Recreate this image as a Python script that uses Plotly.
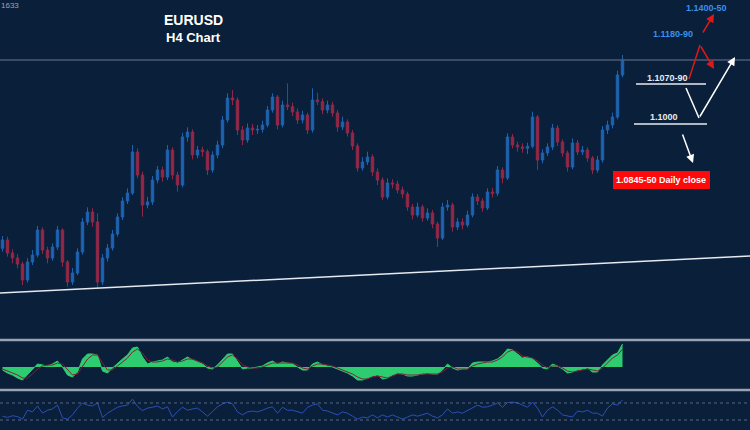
import plotly.graph_objects as go

# ---------------- data ----------------
idx = list(range(125))

opens = [1.0615, 1.0640, 1.0601, 1.0586, 1.0568, 1.0520, 1.0574, 1.0595, 1.0670, 1.0610,
         1.0586, 1.0619, 1.0670, 1.0574, 1.0514, 1.0541, 1.0604, 1.0694, 1.0724, 1.0694,
         1.0514, 1.0586, 1.0616, 1.0658, 1.0709, 1.0757, 1.0781, 1.0904, 1.0835, 1.0745,
         1.0754, 1.0820, 1.0850, 1.0829, 1.0910, 1.0835, 1.0805, 1.0949, 1.0964, 1.0895,
         1.0910, 1.0905, 1.0850, 1.0895, 1.0925, 1.1000, 1.1066, 1.1060, 1.0970, 1.0940,
         1.0976, 1.0970, 1.0972, 1.0985, 1.1030, 1.1069, 1.0985, 1.1045, 1.1040, 1.1024,
         1.1000, 1.1015, 1.0970, 1.1060, 1.1055, 1.1030, 1.1045, 1.1021, 1.0979, 1.0994,
         1.0961, 1.0922, 1.0856, 1.0874, 1.0889, 1.0844, 1.0820, 1.0769, 1.0811, 1.0808,
         1.0790, 1.0778, 1.0739, 1.0715, 1.0739, 1.0706, 1.0721, 1.0688, 1.0646, 1.0739,
         1.0745, 1.0679, 1.0694, 1.0685, 1.0715, 1.0769, 1.0757, 1.0736, 1.0784, 1.0780,
         1.0850, 1.0826, 1.0949, 1.0925, 1.0919, 1.0915, 1.0921, 1.1009, 1.0880, 1.0901,
         1.0919, 1.0976, 1.0934, 1.0901, 1.0859, 1.0931, 1.0904, 1.0910, 1.0886, 1.0850,
         1.0880, 1.0970, 1.0985, 1.1009, 1.1135]

closes = [1.0640, 1.0601, 1.0586, 1.0568, 1.0520, 1.0574, 1.0595, 1.0670, 1.0610, 1.0586,
          1.0619, 1.0670, 1.0574, 1.0514, 1.0541, 1.0604, 1.0694, 1.0724, 1.0694, 1.0514,
          1.0586, 1.0616, 1.0658, 1.0709, 1.0757, 1.0781, 1.0904, 1.0835, 1.0745, 1.0754,
          1.0820, 1.0850, 1.0829, 1.0910, 1.0835, 1.0805, 1.0949, 1.0964, 1.0895, 1.0910,
          1.0905, 1.0850, 1.0895, 1.0925, 1.1000, 1.1066, 1.1060, 1.0970, 1.0940, 1.0976,
          1.0970, 1.0972, 1.0985, 1.1030, 1.1069, 1.0985, 1.1045, 1.1040, 1.1024, 1.1000,
          1.1015, 1.0970, 1.1060, 1.1055, 1.1030, 1.1045, 1.1021, 1.0979, 1.0994, 1.0961,
          1.0922, 1.0856, 1.0874, 1.0889, 1.0844, 1.0820, 1.0769, 1.0811, 1.0808, 1.0790,
          1.0778, 1.0739, 1.0715, 1.0739, 1.0706, 1.0721, 1.0688, 1.0646, 1.0739, 1.0745,
          1.0679, 1.0694, 1.0685, 1.0715, 1.0769, 1.0757, 1.0736, 1.0784, 1.0780, 1.0850,
          1.0826, 1.0949, 1.0925, 1.0919, 1.0915, 1.0921, 1.1009, 1.0880, 1.0901, 1.0919,
          1.0976, 1.0934, 1.0901, 1.0859, 1.0931, 1.0904, 1.0910, 1.0886, 1.0850, 1.0880,
          1.0970, 1.0985, 1.1009, 1.1135, 1.1180]

highs = [1.0652, 1.0650, 1.0612, 1.0598, 1.0575, 1.0585, 1.0610, 1.0682, 1.0678, 1.0620,
         1.0630, 1.0682, 1.0675, 1.0580, 1.0556, 1.0615, 1.0706, 1.0738, 1.0735, 1.0720,
         1.0598, 1.0628, 1.0670, 1.0720, 1.0768, 1.0795, 1.0925, 1.0915, 1.0845, 1.0770,
         1.0832, 1.0862, 1.0860, 1.0925, 1.0918, 1.0845, 1.0962, 1.0978, 1.0972, 1.0922,
         1.0920, 1.0912, 1.0906, 1.0938, 1.1012, 1.1080, 1.1090, 1.1068, 1.0982, 1.0990,
         1.0988, 1.0985, 1.0998, 1.1042, 1.1080, 1.1075, 1.1058, 1.1110, 1.1052, 1.1035,
         1.1028, 1.1022, 1.1095, 1.1082, 1.1065, 1.1058, 1.1055, 1.1030, 1.1010, 1.1002,
         1.0970, 1.0930, 1.0888, 1.0905, 1.0897, 1.0855, 1.0828, 1.0825, 1.0822, 1.0818,
         1.0800, 1.0785, 1.0748, 1.0752, 1.0746, 1.0735, 1.0730, 1.0695, 1.0752, 1.0760,
         1.0752, 1.0706, 1.0705, 1.0728, 1.0780, 1.0778, 1.0765, 1.0795, 1.0796, 1.0862,
         1.0858, 1.0960, 1.0958, 1.0935, 1.0930, 1.0932, 1.1025, 1.1015, 1.0912, 1.0930,
         1.0988, 1.0985, 1.0942, 1.0908, 1.0945, 1.0940, 1.0922, 1.0918, 1.0892, 1.0892,
         1.0982, 1.0998, 1.1022, 1.1148, 1.1195]

lows = [1.0605, 1.0590, 1.0570, 1.0555, 1.0505, 1.0512, 1.0565, 1.0588, 1.0598, 1.0570,
        1.0578, 1.0610, 1.0560, 1.0500, 1.0505, 1.0535, 1.0596, 1.0685, 1.0680, 1.0493,
        1.0505, 1.0575, 1.0608, 1.0650, 1.0700, 1.0748, 1.0775, 1.0825, 1.0710, 1.0735,
        1.0745, 1.0810, 1.0815, 1.0820, 1.0822, 1.0785, 1.0798, 1.0935, 1.0882, 1.0885,
        1.0890, 1.0835, 1.0842, 1.0885, 1.0915, 1.0992, 1.1045, 1.0955, 1.0925, 1.0932,
        1.0955, 1.0958, 1.0962, 1.0978, 1.1022, 1.0972, 1.0978, 1.1030, 1.1012, 1.0988,
        1.0990, 1.0958, 1.0962, 1.1045, 1.1018, 1.1020, 1.1010, 1.0965, 1.0970, 1.0950,
        1.0910, 1.0845, 1.0848, 1.0865, 1.0832, 1.0805, 1.0760, 1.0762, 1.0795, 1.0780,
        1.0765, 1.0728, 1.0702, 1.0708, 1.0695, 1.0698, 1.0675, 1.0619, 1.0640, 1.0728,
        1.0665, 1.0670, 1.0672, 1.0678, 1.0708, 1.0745, 1.0725, 1.0730, 1.0768, 1.0772,
        1.0810, 1.0820, 1.0915, 1.0905, 1.0902, 1.0898, 1.0915, 1.0850, 1.0870, 1.0892,
        1.0910, 1.0922, 1.0890, 1.0845, 1.0852, 1.0895, 1.0895, 1.0875, 1.0838, 1.0842,
        1.0872, 1.0958, 1.0975, 1.1002, 1.1128]

macd = [-3, -6, -8, -11, -13, -8, -3, 3, 2, 1, 3, 6, 0, -8, -10, -5, 8, 13, 13, 12,
        -4, -6, -1, 4, 8, 12, 19, 20, 10, 3, 5, 6, 7, 10, 5, 4, 7, 10, 7, 5,
        3, -1, -2, 2, 8, 13, 13, 5, -2, -1, -1, 0, 1, 4, 6, 3, 5, 4, 3, 0,
        -3, -3, 3, 5, 2, 1, 0, -2, -4, -6, -9, -13, -13, -11, -9, -8, -12, -11, -8, -6,
        -7, -9, -9, -8, -7, -6, -7, -7, -3, 3, -1, -3, -2, -2, 4, 5, 5, 5, 6, 8,
        12, 18, 17, 13, 9, 10, 8, 4, -1, -2, 3, 1, -2, -6, -5, -3, -2, -1, -5, -5,
        2, 7, 12, 14, 23]

signal = [-2, -4, -6, -8, -11, -11, -7, -2, 1, 2, 2, 4, 3, -3, -8, -7, 0, 8, 12, 12,
          4, -3, -3, 1, 5, 9, 15, 18, 14, 7, 5, 5, 6, 8, 7, 5, 6, 8, 8, 6,
          4, 1, -1, 0, 5, 10, 12, 8, 2, 0, -1, -1, 0, 2, 4, 4, 4, 4, 4, 2,
          -1, -2, 1, 3, 3, 2, 1, -1, -3, -5, -7, -10, -12, -12, -10, -9, -10, -11, -9, -7,
          -7, -8, -8, -8, -7, -7, -7, -7, -5, -1, 0, -2, -2, -2, 1, 3, 4, 5, 5, 7,
          10, 15, 17, 15, 11, 10, 9, 6, 2, -1, 1, 1, -1, -4, -5, -4, -3, -2, -3, -4,
          -1, 4, 9, 12, 18]

rsi = [39, 36, 40, 38, 32, 53, 49, 63, 46, 53, 56, 65, 35, 32, 42, 58, 70, 65, 63, 70,
       36, 46, 53, 60, 63, 65, 79, 62, 52, 58, 60, 63, 56, 61, 37, 50, 60, 53, 56, 58,
       49, 39, 50, 61, 68, 72, 68, 49, 42, 49, 51, 49, 53, 58, 61, 46, 60, 53, 53, 49,
       46, 60, 65, 68, 53, 51, 46, 42, 49, 46, 39, 32, 37, 35, 42, 35, 42, 37, 42, 37,
       32, 37, 42, 39, 42, 46, 39, 35, 42, 56, 46, 49, 46, 53, 58, 65, 60, 61, 65, 70,
       60, 71, 72, 70, 65, 60, 72, 58, 37, 53, 61, 53, 42, 39, 37, 51, 49, 53, 46, 46,
       39, 58, 68, 65, 77]

trend_start, trend_end = 1.0481, 1.0592
resistance_level = 1.1180
rsi_levels = [70, 30]

title_lines = ["EURUSD", "H4 Chart"]
level_labels = ["1.1400-50", "1.1180-90", "1.1070-90", "1.1000", "1.0845-50 Daily close"]

# ---------------- figure ----------------
BG = "#0a1f3a"
W, H = 750, 430


def px(x):
    return x / W


def py(y):
    return 1 - y / H


fig = go.Figure()

fig.add_trace(go.Candlestick(
    x=idx, open=opens, high=highs, low=lows, close=closes,
    increasing=dict(line=dict(color="#1e62b0", width=1), fillcolor="#1e62b0"),
    decreasing=dict(line=dict(color="#922848", width=1), fillcolor="#922848"),
    whiskerwidth=0, xaxis="x", yaxis="y", showlegend=False,
))

fig.add_trace(go.Scatter(
    x=idx, y=macd, mode="lines", fill="tozeroy",
    line=dict(color="#2ecc71", width=1), fillcolor="#2ecc71",
    xaxis="x2", yaxis="y2", showlegend=False,
))
fig.add_trace(go.Scatter(
    x=idx, y=signal, mode="lines", line=dict(color="#7e2236", width=1),
    xaxis="x2", yaxis="y2", showlegend=False,
))
fig.add_trace(go.Scatter(
    x=idx, y=rsi, mode="lines", line=dict(color="#2a50b8", width=1),
    xaxis="x3", yaxis="y3", showlegend=False,
))

xr = [-0.5, 149.5]
hidden = dict(visible=False, showgrid=False, zeroline=False, fixedrange=True)
fig.update_layout(
    width=W, height=H,
    margin=dict(l=0, r=0, t=0, b=0),
    paper_bgcolor=BG, plot_bgcolor=BG,
    xaxis=dict(range=xr, anchor="y", rangeslider=dict(visible=False), **hidden),
    xaxis2=dict(range=xr, anchor="y2", **hidden),
    xaxis3=dict(range=xr, anchor="y3", **hidden),
    yaxis=dict(domain=[py(338), 1], range=[1.0346, 1.1360], anchor="x", **hidden),
    yaxis2=dict(domain=[py(388), py(342)], range=[-21, 25], anchor="x2", **hidden),
    yaxis3=dict(domain=[0, py(392)], range=[6.5, 95.8], anchor="x3", **hidden),
    font=dict(family="Liberation Sans, Arial, sans-serif"),
)

shapes = []
shapes.append(dict(type="line", xref="x domain", yref="y", x0=0, x1=1,
                   y0=trend_start, y1=trend_end, line=dict(color="#e6e9ef", width=1.5)))
shapes.append(dict(type="line", xref="x domain", yref="y", x0=0, x1=1,
                   y0=resistance_level, y1=resistance_level,
                   line=dict(color="#4a5b76", width=1.5)))
for yy in (340, 390):
    shapes.append(dict(type="line", xref="paper", yref="paper", x0=0, x1=1,
                       y0=py(yy), y1=py(yy), line=dict(color="#9aa2b4", width=2.5)))
for lv in rsi_levels:
    shapes.append(dict(type="line", xref="x3 domain", yref="y3", x0=0, x1=1,
                       y0=lv, y1=lv, line=dict(color="#5c6680", width=1, dash="dot")))
for (xa, xb, yy) in [(636, 706, 84), (634, 707, 124)]:
    shapes.append(dict(type="line", xref="paper", yref="paper", x0=px(xa), x1=px(xb),
                       y0=py(yy), y1=py(yy), line=dict(color="#e8ebf0", width=1.5)))
shapes.append(dict(type="line", xref="paper", yref="paper", x0=px(689), y0=py(79),
                   x1=px(700), y1=py(45), line=dict(color="#e01818", width=1.5)))
shapes.append(dict(type="line", xref="paper", yref="paper", x0=px(686), y0=py(88),
                   x1=px(699), y1=py(118), line=dict(color="#ffffff", width=1.5)))
shapes.append(dict(type="rect", xref="paper", yref="paper", x0=px(613), x1=px(710),
                   y0=py(189), y1=py(171), fillcolor="#ff0a0a", line=dict(width=0)))
fig.update_layout(shapes=shapes)

ann = []


def txt(x, y, s, color, size, bold=True):
    ann.append(dict(xref="paper", yref="paper", x=px(x), y=py(y), text=("<b>%s</b>" % s) if bold else s,
                    showarrow=False, font=dict(color=color, size=size), xanchor="center", yanchor="middle"))


def arrow(x0, y0, x1, y1, color):
    ann.append(dict(xref="paper", yref="paper", x=px(x1), y=py(y1),
                    axref="pixel", ayref="pixel", ax=x0 - x1, ay=y0 - y1,
                    text="", showarrow=True, arrowhead=2, arrowsize=1.1, arrowwidth=1.5,
                    arrowcolor=color, standoff=0, startstandoff=0))


txt(193, 20, title_lines[0], "#ffffff", 14)
txt(193, 37, title_lines[1], "#ffffff", 13)
txt(706, 8, level_labels[0], "#3b8fea", 9)
txt(673, 34, level_labels[1], "#3b8fea", 9)
txt(667, 78, level_labels[2], "#e8ebf0", 9)
txt(664, 117, level_labels[3], "#e8ebf0", 9)
txt(661, 180, level_labels[4], "#ffffff", 9)
txt(10, 6, "1633", "#9aa3b5", 8, bold=False)

arrow(700, 45, 714, 69, "#e01818")
arrow(702, 34, 714, 14, "#e01818")
arrow(699, 118, 735, 57, "#ffffff")
arrow(682, 133, 693, 163, "#ffffff")

fig.update_layout(annotations=ann)

fig.write_html("out.html", config={"displayModeBar": False},
               post_script="document.body.style.margin='0';document.body.style.background='%s';" % BG)
